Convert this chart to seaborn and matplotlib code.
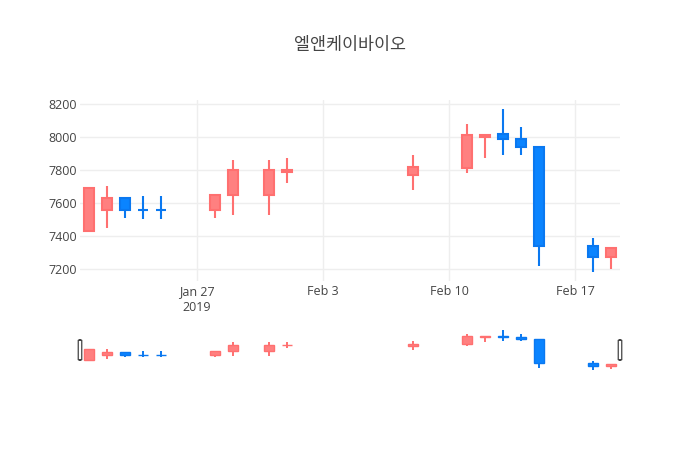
import matplotlib
matplotlib.use("Agg")
import matplotlib.pyplot as plt
import matplotlib.dates as mdates
from matplotlib.patches import FancyBboxPatch
import seaborn as sns
import pandas as pd
import numpy as np

# ---- data ----
title = "엘앤케이바이오"
dates = ["2019-01-21", "2019-01-22", "2019-01-23", "2019-01-24", "2019-01-25",
         "2019-01-28", "2019-01-29", "2019-01-31", "2019-02-01",
         "2019-02-08", "2019-02-11", "2019-02-12", "2019-02-13", "2019-02-14",
         "2019-02-15", "2019-02-18", "2019-02-19"]
opens = [7430, 7560, 7630, 7560, 7560, 7560, 7650, 7650, 7790,
         7770, 7810, 8000, 8020, 7990, 7940, 7340, 7270]
highs = [7690, 7700, 7630, 7640, 7640, 7650, 7860, 7860, 7870,
         7890, 8080, 8010, 8170, 8060, 7940, 7390, 7330]
lows = [7430, 7450, 7510, 7500, 7500, 7510, 7530, 7530, 7720,
        7680, 7780, 7870, 7890, 7890, 7220, 7180, 7200]
closes = [7690, 7630, 7560, 7560, 7560, 7650, 7800, 7800, 7800,
          7820, 8010, 8010, 7990, 7940, 7340, 7270, 7330]
yticks = [7200, 7400, 7600, 7800, 8000, 8200]
xtick_dates = ["2019-01-27", "2019-02-03", "2019-02-10", "2019-02-17"]
xtick_labels = ["Jan 27\n2019", "Feb 3", "Feb 10", "Feb 17"]

df = pd.DataFrame({"date": pd.to_datetime(dates), "open": opens, "high": highs,
                   "low": lows, "close": closes})

# direction (plotly rule: equal open/close compares with previous close)
inc = []
prev = None
for o, c in zip(df["open"], df["close"]):
    if c > o:
        inc.append(True)
    elif c < o:
        inc.append(False)
    else:
        inc.append(prev is not None and c > prev)
    prev = c
df["inc"] = inc

UP_FILL, UP_LINE = "#ff8080", "#ff7070"
DN_FILL, DN_LINE = "#0a84ff", "#0a78f0"

sns.set_theme(style="white")
plt.rcParams["font.family"] = ["Open Sans", "Noto Sans CJK KR", "DejaVu Sans"]

W, H = 700, 450
fig = plt.figure(figsize=(7, 4.5), dpi=100)
fig.patch.set_facecolor("white")

ax = fig.add_axes([80 / W, (H - 281) / H, 540 / W, 181 / H])
ax_rs = fig.add_axes([80 / W, (H - 372) / H, 540 / W, 44 / H])

xnum = mdates.date2num(df["date"])
x0 = mdates.date2num(pd.Timestamp("2019-01-20 12:00"))
x1 = mdates.date2num(pd.Timestamp("2019-02-19 12:00"))
bw = 0.6


def draw_candles(a, lw_wick, lw_edge):
    for xi, o, h, l, c, up in zip(xnum, df["open"], df["high"], df["low"],
                                  df["close"], df["inc"]):
        fill = UP_FILL if up else DN_FILL
        line = UP_LINE if up else DN_LINE
        a.vlines(xi, l, h, color=line, lw=lw_wick, zorder=2)
        bottom = min(o, c)
        height = max(abs(c - o), 0.0)
        a.bar(xi, height, width=bw, bottom=bottom, color=fill,
              edgecolor=line, linewidth=lw_edge, zorder=3)


draw_candles(ax, 1.5, 1.5)
draw_candles(ax_rs, 1.4, 1.0)

# main axis styling
ax.set_xlim(x0, x1)
ax.set_ylim(7127, 8224)
ax.set_yticks(yticks)
ax.set_yticklabels([str(v) for v in yticks])
ax.set_xticks(mdates.date2num(pd.to_datetime(xtick_dates)))
ax.set_xticklabels(xtick_labels, linespacing=1.25)
ax.tick_params(axis="both", length=0, labelsize=9, colors="#444444")
ax.tick_params(axis="y", pad=2)
ax.tick_params(axis="x", pad=3)
ax.grid(True, color="#eeeeee", linewidth=1)
ax.set_axisbelow(True)
for s in ax.spines.values():
    s.set_visible(False)
ax.set_facecolor("white")

# range slider styling
ax_rs.set_xlim(x0, x1)
ax_rs.set_ylim(7128, 8218)
ax_rs.set_xticks([])
ax_rs.set_yticks([])
ax_rs.grid(False)
for s in ax_rs.spines.values():
    s.set_visible(False)
ax_rs.set_facecolor("white")

# slider handles
hw = 3.5 / 540
for xh in (0.0, 1.0):
    p = FancyBboxPatch((xh - hw / 2, 0.273), hw, 0.454,
                       boxstyle="round,pad=0,rounding_size=0.004",
                       transform=ax_rs.transAxes, facecolor="white",
                       edgecolor="#444444", linewidth=0.9, clip_on=False,
                       zorder=5, mutation_aspect=1)
    ax_rs.add_patch(p)

fig.text(350 / W, 1 - 45 / H, title, ha="center", va="center",
         fontsize=12.5, color="#444444",
         family=["Noto Sans CJK KR", "DejaVu Sans"])

fig.savefig("out.png", dpi=100, facecolor="white")
